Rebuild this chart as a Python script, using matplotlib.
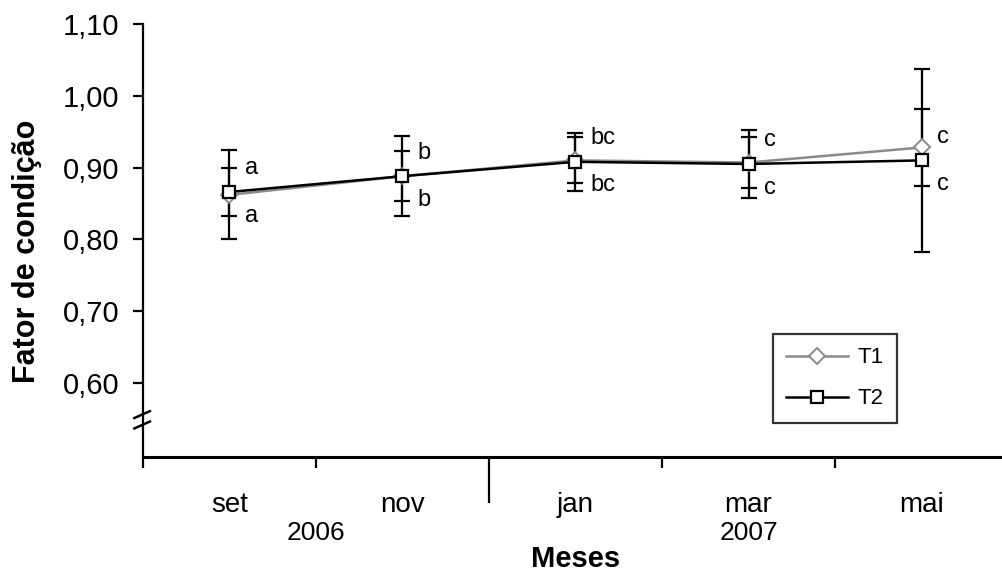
import matplotlib
matplotlib.use("Agg")
import matplotlib.pyplot as plt
import numpy as np

# data
meses = ["set", "nov", "jan", "mar", "mai"]
anos = ["2006", "2007"]
anos_meses = [[0, 1], [2, 3, 4]]

t1 = [0.862, 0.888, 0.910, 0.907, 0.928]
t2 = [0.866, 0.888, 0.908, 0.905, 0.910]
t1_err = [0.062, 0.056, 0.032, 0.036, 0.053]
t2_err = [0.034, 0.035, 0.040, 0.047, 0.128]

letras_sup = ["a", "b", "bc", "c", "c"]
letras_inf = ["a", "b", "bc", "c", "c"]

y_ticks = [0.60, 0.70, 0.80, 0.90, 1.00, 1.10]

plt.rcParams["font.family"] = ["Liberation Sans", "DejaVu Sans"]

fig = plt.figure(figsize=(10.02, 5.72), dpi=100)
ax = fig.add_axes([0.1427, 0.201, 0.8633, 0.757])

x = np.arange(len(meses))

ax.errorbar(x, t1, yerr=t1_err, fmt="none", ecolor="black", elinewidth=1.6,
            capsize=6, capthick=1.6, zorder=2)
ax.errorbar(x, t2, yerr=t2_err, fmt="none", ecolor="black", elinewidth=1.6,
            capsize=6, capthick=1.6, zorder=2)
ax.plot(x, t1, color="#8a8a8a", lw=1.8, marker="D", ms=8, mfc="white",
        mec="#8a8a8a", mew=1.4, label="T1", zorder=3)
ax.plot(x, t2, color="black", lw=1.8, marker="s", ms=9, mfc="white",
        mec="black", mew=1.6, label="T2", zorder=4)

for i in range(len(meses)):
    ax.annotate(letras_sup[i], (x[i], t2[i]), xytext=(11, 17),
                textcoords="offset points", ha="left", va="center", fontsize=17)
    ax.annotate(letras_inf[i], (x[i], t2[i]), xytext=(11, -17),
                textcoords="offset points", ha="left", va="center", fontsize=17)

ax.set_xlim(-0.5, len(meses) - 0.5)
ax.set_ylim(0.4967, 1.10)

for s in ["top", "right"]:
    ax.spines[s].set_visible(False)
ax.spines["left"].set_linewidth(1.6)
ax.spines["bottom"].set_linewidth(2.2)

ax.set_yticks(y_ticks)
ax.set_yticklabels([f"{v:.2f}".replace(".", ",") for v in y_ticks], fontsize=21)
ax.tick_params(axis="y", direction="out", length=7, width=1.6, pad=10)

# category boundaries as major ticks, month names on minor ticks
ax.set_xticks(np.arange(-0.5, len(meses), 1.0))
ax.set_xticklabels([])
ax.tick_params(axis="x", which="major", direction="out", length=8, width=1.6)
ax.set_xticks(x, minor=True)
ax.set_xticklabels(meses, minor=True, fontsize=20)
ax.tick_params(axis="x", which="minor", length=0, pad=25)
# long tick at the year boundary
ax.xaxis.get_major_ticks()[2].tick1line.set_markersize(33)

for nome, idx in zip(anos, anos_meses):
    ax.text(np.mean(idx), -0.176, nome, transform=ax.get_xaxis_transform(),
            ha="center", va="center", fontsize=19)

ax.text(0.5, -0.235, "Meses", transform=ax.transAxes, ha="center", va="center",
        fontsize=21, fontweight="bold")
fig.text(0.027, 0.56, "Fator de condição", rotation=90, ha="center",
         va="center", fontsize=22, fontweight="bold")

# axis break marks
for yb in (0.098, 0.074):
    ax.plot([-0.01, 0.008], [yb - 0.008, yb + 0.008], transform=ax.transAxes,
            color="black", lw=1.8, clip_on=False, zorder=5)

leg = ax.legend(loc="upper left", bbox_to_anchor=(0.728, 0.284),
                borderaxespad=0, frameon=True, fancybox=False,
                handlelength=2.8, labelspacing=0.9, borderpad=0.6,
                handletextpad=0.4, prop={"size": 16})
leg.get_frame().set_edgecolor("black")
leg.get_frame().set_linewidth(1.6)

fig.savefig("out.png", dpi=100)
